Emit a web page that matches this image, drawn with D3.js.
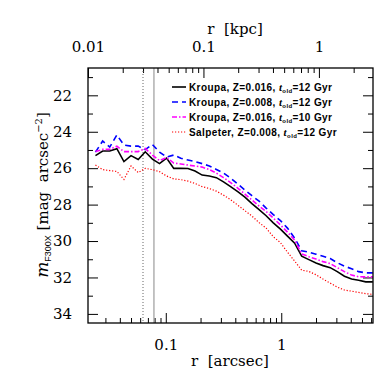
<!DOCTYPE html>
<html>
<head>
<meta charset="utf-8">
<script src="https://cdn.jsdelivr.net/npm/d3@7"></script>
<style>
  body { margin: 0; background: #fff; }
  svg text { font-family: "DejaVu Serif", serif; }
</style>
</head>
<body>
<div class="svg-div"></div>
<script>
// radii in arcsec, shared by all profiles
const radius = [0.0246, 0.0284, 0.0327, 0.0377, 0.0434, 0.0500, 0.0577, 0.0664, 0.0766, 0.0882,
  0.1016, 0.1172, 0.1349, 0.1556, 0.1791, 0.2065, 0.2382, 0.2742, 0.3162, 0.3640,
  0.4198, 0.4842, 0.5572, 0.6427, 0.7396, 0.8531, 0.9840, 1.132, 1.306, 1.503,
  1.734, 2.000, 2.301, 2.655, 3.055, 3.524, 4.064, 4.677, 5.395, 6.209];

// surface brightness, mag arcsec^-2
const kroupa016_12 = [25.31, 25.06, 25.06, 24.93, 25.64, 25.31, 25.52, 25.10, 25.50, 25.75,
  25.45, 26.01, 26.01, 26.02, 26.16, 26.38, 26.43, 26.52, 26.75, 27.01,
  27.29, 27.59, 27.95, 28.28, 28.61, 29.00, 29.35, 29.73, 30.12, 30.83,
  31.02, 31.21, 31.35, 31.46, 31.68, 31.93, 32.08, 32.15, 32.24, 32.24];
const kroupa008_12 = [25.12, 24.51, 24.84, 24.18, 24.73, 24.79, 24.79, 24.98, 24.70, 25.12,
  25.39, 25.28, 25.45, 25.55, 25.64, 25.75, 25.88, 26.07, 26.27, 26.54,
  26.87, 27.20, 27.51, 27.81, 28.19, 28.55, 28.88, 29.29, 29.84, 30.53,
  30.61, 30.72, 30.83, 30.96, 31.19, 31.38, 31.52, 31.68, 31.75, 31.75];
const kroupa016_10 = [25.09, 24.97, 24.97, 24.79, 25.09, 25.09, 25.09, 24.92, 25.28, 25.58,
  25.42, 25.72, 25.77, 25.83, 25.88, 25.94, 26.08, 26.27, 26.52, 26.79,
  27.09, 27.42, 27.75, 28.08, 28.38, 28.74, 29.12, 29.51, 29.95, 30.71,
  30.86, 30.99, 31.13, 31.24, 31.46, 31.68, 31.87, 31.96, 31.97, 31.97];
const salpeter008_12 = [25.83, 26.08, 26.13, 26.18, 26.62, 25.88, 26.24, 26.01, 26.08, 26.19,
  26.43, 26.59, 26.63, 26.71, 26.84, 27.01, 27.12, 27.26, 27.48, 27.73,
  28.03, 28.33, 28.63, 28.99, 29.29, 29.76, 30.09, 30.61, 31.10, 31.60,
  31.67, 31.85, 32.09, 32.31, 32.53, 32.69, 32.75, 32.82, 32.89, 32.93];

const xMajor = [0.1, 1];
const xMinor = [0.03, 0.04, 0.05, 0.06, 0.07, 0.08, 0.09, 0.2, 0.3, 0.4, 0.5, 0.6, 0.7, 0.8, 0.9, 2, 3, 4, 5, 6];
const kpcMajor = [0.01, 0.1, 1];
const kpcMinor = [0.02, 0.03, 0.04, 0.05, 0.06, 0.07, 0.08, 0.09, 0.2, 0.3, 0.4, 0.5, 0.6, 0.7, 0.8, 0.9, 2];
const yMajor = [22, 24, 26, 28, 30, 32, 34];
const yMinor = [21, 23, 25, 27, 29, 31, 33];
const psfRadius = [0.0635, 0.079];
const kpcPerArcsec = 0.472;

const svgWidth = 382, svgHeight = 382;
const margin = {top: 68, right: 9, bottom: 59, left: 88};
const width = svgWidth - margin.left - margin.right;
const height = svgHeight - margin.top - margin.bottom;

const svg = d3.select(".svg-div").append("svg")
  .attr("width", svgWidth)
  .attr("height", svgHeight);

const x = d3.scaleLog().domain([0.0212, 6.23]).range([0, width]);
const xTop = d3.scaleLog().domain(x.domain().map(d => d * kpcPerArcsec)).range([0, width]);
const y = d3.scaleLinear().domain([20.5, 34.5]).range([0, height]);

const g = svg.append("g")
  .attr("transform", "translate(" + margin.left + "," + margin.top + ")");

const fmt = d => String(d);

function tickAxis(axis, vals, size, labels, transform) {
  const a = g.append("g")
    .attr("transform", transform)
    .call(axis.tickValues(vals).tickSizeInner(-size).tickSizeOuter(0)
      .tickPadding(size + 6).tickFormat(labels ? fmt : ""));
  a.select(".domain").remove();
  a.selectAll("line").attr("stroke", "#000").attr("stroke-width", 1);
  a.selectAll("text").style("font-size", "15px").style("font-family", "DejaVu Serif").attr("fill", "#000");
  return a;
}

// bottom (arcsec)
tickAxis(d3.axisBottom(x), xMajor, 10, true, "translate(0," + height + ")");
tickAxis(d3.axisBottom(x), xMinor, 5, false, "translate(0," + height + ")");
// top (kpc)
tickAxis(d3.axisTop(xTop), kpcMajor, 10, true, "translate(0,0)");
tickAxis(d3.axisTop(xTop), kpcMinor, 5, false, "translate(0,0)");
// left / right
tickAxis(d3.axisLeft(y), yMajor, 10, true, "translate(0,0)");
tickAxis(d3.axisLeft(y), yMinor, 5, false, "translate(0,0)");
tickAxis(d3.axisRight(y), yMajor, 10, false, "translate(" + width + ",0)");
tickAxis(d3.axisRight(y), yMinor, 5, false, "translate(" + width + ",0)");

// PSF lines
g.selectAll(".psf")
  .data(psfRadius)
  .enter()
  .append("line")
  .attr("x1", d => x(d)).attr("x2", d => x(d))
  .attr("y1", 0).attr("y2", height)
  .attr("stroke", (d, i) => i === 0 ? "#666" : "#888")
  .attr("stroke-width", 1)
  .attr("stroke-dasharray", (d, i) => i === 0 ? "1,2" : null);

const series = [
  {label: "Kroupa, Z=0.016, ", age: "12", values: kroupa016_12, color: "#000", dash: null, w: 1.6},
  {label: "Kroupa, Z=0.008, ", age: "12", values: kroupa008_12, color: "#0000ff", dash: "6,4", w: 1.6},
  {label: "Kroupa, Z=0.016, ", age: "10", values: kroupa016_10, color: "#ff00ff", dash: "5,2,1.5,2", w: 1.6},
  {label: "Salpeter, Z=0.008, ", age: "12", values: salpeter008_12, color: "#ff0000", dash: "1.2,1.8", w: 1.2}
];

const line = d3.line()
  .x(d => x(d[0]))
  .y(d => y(d[1]));

g.selectAll(".profile")
  .data(series)
  .enter()
  .append("path")
  .attr("class", "profile")
  .attr("fill", "none")
  .attr("stroke", d => d.color)
  .attr("stroke-width", d => d.w)
  .attr("stroke-dasharray", d => d.dash)
  .attr("d", d => line(radius.map((r, i) => [r, d.values[i]])));

// legend
const leg = g.append("g").attr("transform", "translate(84,19)");
const rows = leg.selectAll(".row")
  .data(series)
  .enter()
  .append("g")
  .attr("transform", (d, i) => "translate(0," + i * 15 + ")");
rows.append("line")
  .attr("x1", 0).attr("x2", 14)
  .attr("stroke", d => d.color)
  .attr("stroke-width", d => d.w)
  .attr("stroke-dasharray", d => d.dash);
const lt = rows.append("text")
  .attr("x", 17).attr("y", 3.5)
  .style("font-family", "Liberation Sans, Arial, sans-serif")
  .style("font-weight", "bold")
  .style("letter-spacing", "0.4px")
  .style("font-size", "10px");
lt.append("tspan").text(d => d.label);
lt.append("tspan").style("font-style", "italic").style("font-family", "Liberation Serif").style("font-size", "11px").text("t");
lt.append("tspan").attr("dy", 2).style("font-size", "6px").text("old");
lt.append("tspan").attr("dy", -2).text(d => "=" + d.age + " Gyr");

// frame
g.append("rect")
  .attr("width", width).attr("height", height)
  .attr("fill", "none").attr("stroke", "#000").attr("stroke-width", 1.3);

// axis titles
svg.append("text")
  .attr("x", 235).attr("y", 34)
  .attr("text-anchor", "middle")
  .style("font-size", "15px")
  .style("white-space", "pre")
  .text("r  [kpc]");
svg.append("text")
  .attr("x", 230).attr("y", 366)
  .attr("text-anchor", "middle")
  .style("font-size", "15px")
  .style("white-space", "pre")
  .text("r  [arcsec]");

const yl = svg.append("text")
  .attr("transform", "translate(48,195) rotate(-90)")
  .attr("text-anchor", "middle")
  .style("font-size", "15px")
  .style("white-space", "pre");
yl.append("tspan").style("font-style", "italic").style("font-size", "17px").text("m");
yl.append("tspan").attr("dy", 3).style("font-size", "9px").style("font-family", "Liberation Sans").text("F300X");
yl.append("tspan").attr("dy", -3).text(" [mag  arcsec");
yl.append("tspan").attr("dy", -6).style("font-size", "10px").text("−2");
yl.append("tspan").attr("dy", 6).text("]");
</script>
</body>
</html>
